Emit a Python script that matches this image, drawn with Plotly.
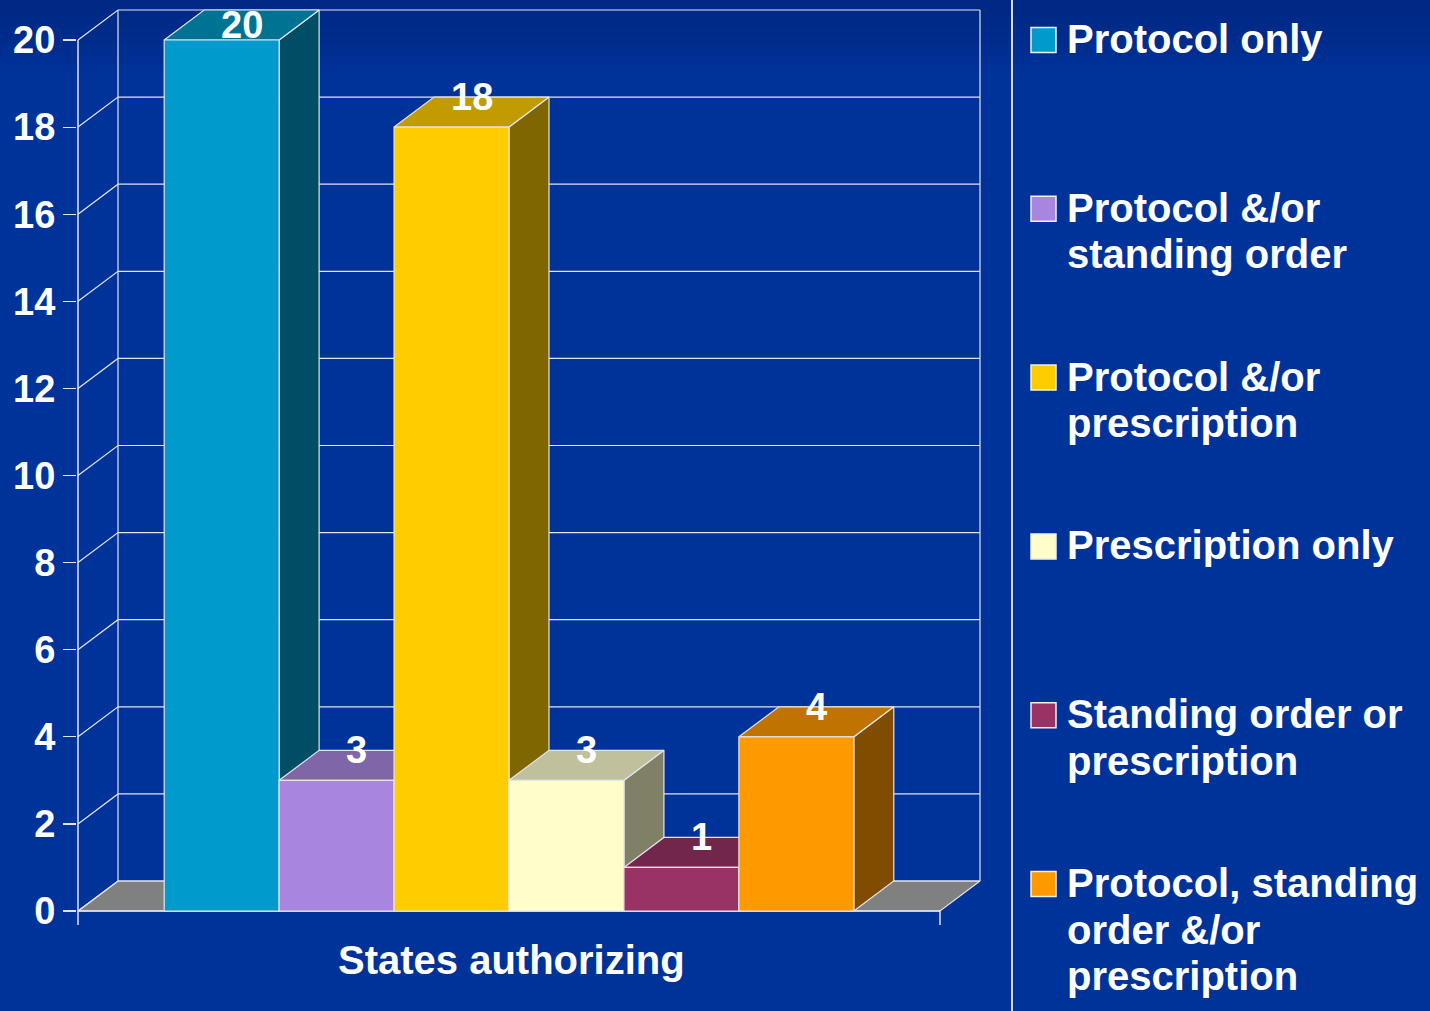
import plotly.graph_objects as go

# ---------------- data ----------------
CATEGORIES = [
    "Protocol only",
    "Protocol &/or<br>standing order",
    "Protocol &/or<br>prescription",
    "Prescription only",
    "Standing order or<br>prescription",
    "Protocol, standing<br>order &/or<br>prescription",
]
VALUES = [20, 3, 18, 3, 1, 4]
Y_TICKS = [0, 2, 4, 6, 8, 10, 12, 14, 16, 18, 20]
X_TITLE = "States authorizing"

FRONT_COLORS = ["#009ACD", "#A886E0", "#FFCC00", "#FFFFCC", "#993366", "#FF9900"]
TOP_COLORS = ["#007392", "#7F66A8", "#C09C00", "#C0C09C", "#73264C", "#C07300"]
SIDE_COLORS = ["#004D66", "#544370", "#806600", "#808066", "#4C1933", "#804D00"]

# ---------------- style ----------------
BG = "#003399"
LINE = "#E4E4EC"
FONT = "Arial, Liberation Sans, sans-serif"
W, H = 1430, 1011
ML, MR, MT, MB = 77, 447, 8, 76
PX_X = 862 / 7.5          # px per x unit
PX_Y = 43.55              # px per y unit
DX = 40 / PX_X            # depth offset (x units)
DY = 30 / PX_Y            # depth offset (y units)

n = len(VALUES)
x0, xf = -0.75, n + 0.75
ymax = max(Y_TICKS)

fig = go.Figure()

def poly(xs, ys, fill, lw=1.2, color=LINE):
    fig.add_trace(go.Scatter(
        x=xs, y=ys, mode="lines", fill="toself" if fill else None,
        fillcolor=fill, line=dict(color=color, width=lw),
        hoverinfo="skip", showlegend=False))

# floor
poly([x0, xf, xf + DX, x0 + DX, x0], [0, 0, DY, DY, 0], "#808080")

# walls / gridlines
gx, gy = [], []
for t in Y_TICKS:
    gx += [x0, x0 + DX, xf + DX, None]
    gy += [t, t + DY, t + DY, None]
gx += [x0 + DX, x0 + DX, None, xf + DX, xf + DX, None]
gy += [DY, ymax + DY, None, DY, ymax + DY, None]
poly(gx, gy, None)

# front axes
poly([x0, x0, None, x0, xf, None, xf, xf],
     [-0.32, ymax, None, 0, 0, None, 0, -0.32], None, lw=1.5)

# bars (side, top, front) in left-to-right order
for i, v in enumerate(VALUES):
    a, b = i, i + 1
    poly([b, b + DX, b + DX, b, b], [0, DY, v + DY, v, 0], SIDE_COLORS[i])
    poly([a, a + DX, b + DX, b, a], [v, v + DY, v + DY, v, v], TOP_COLORS[i])
    poly([a, b, b, a, a], [0, 0, v, v, 0], FRONT_COLORS[i])

ann = []
# value labels
for i, v in enumerate(VALUES):
    ann.append(dict(x=i + 0.5 + DX / 2, y=min(v + DY, ymax + 0.34), xref="x", yref="y",
                    text=str(v), showarrow=False, xanchor="center", yanchor="middle",
                    font=dict(family=FONT, size=38, color="white", weight="bold")))

# pixel -> paper helpers (layout only)
def pxx(px):
    return (px - ML) / (W - ML - MR)

def pxy(py):
    return (H - MB - py) / (H - MT - MB)

# x title
ann.append(dict(x=pxx(511), y=pxy(960), xref="paper", yref="paper", text=X_TITLE,
                showarrow=False, xanchor="center", yanchor="middle",
                font=dict(family=FONT, size=40, color="white", weight="bold")))

shapes = []
# subtle darker band at the top of the slide background
for k in range(1, 9):
    shapes.append(dict(type="rect", xref="paper", yref="paper", layer="below",
                       x0=pxx(-5), x1=pxx(W + 5), y0=pxy(k * 9), y1=pxy(-5),
                       fillcolor="#001a55", opacity=0.045, line=dict(width=0)))

# legend
for i, name in enumerate(CATEGORIES):
    cy = 40 + i * 168.8
    shapes.append(dict(type="rect", xref="paper", yref="paper",
                       x0=pxx(1031), x1=pxx(1056), y0=pxy(cy + 12.5), y1=pxy(cy - 12.5),
                       fillcolor=FRONT_COLORS[i], line=dict(color="#F0F0F0", width=1.5)))
    for k, line in enumerate(name.split("<br>")):
        ann.append(dict(x=pxx(1065), y=pxy(cy + k * 46.5 - 1), xref="paper", yref="paper",
                        text=line, showarrow=False, xanchor="left", yanchor="middle",
                        font=dict(family=FONT, size=40, color="white", weight="bold")))

# separator line
shapes.append(dict(type="line", xref="paper", yref="paper",
                   x0=pxx(1012), x1=pxx(1012), y0=pxy(H + 5), y1=pxy(-5),
                   line=dict(color="#D8DCEC", width=2)))

plot_w = W - ML - MR
plot_h = H - MT - MB
xr0 = x0 - 1 / PX_X
zero_px = 911
yr0 = -((H - MB) - zero_px) / PX_Y

fig.update_layout(
    width=W, height=H,
    margin=dict(l=ML, r=MR, t=MT, b=MB, pad=0),
    paper_bgcolor=BG, plot_bgcolor="rgba(0,0,0,0)",
    showlegend=False,
    xaxis=dict(range=[xr0, xr0 + plot_w / PX_X], visible=False, fixedrange=True),
    yaxis=dict(range=[yr0, yr0 + plot_h / PX_Y], tickvals=Y_TICKS, ticks="outside",
               ticklen=13, tickwidth=1.2, tickcolor=LINE, showgrid=False, zeroline=False,
               showline=False, fixedrange=True,
               tickfont=dict(family=FONT, size=38, color="white", weight="bold")),
    annotations=ann, shapes=shapes,
)

fig.write_html("out.html", config={"displayModeBar": False, "staticPlot": True},
               post_script="document.body.style.margin='0';document.body.style.overflow='hidden';")
